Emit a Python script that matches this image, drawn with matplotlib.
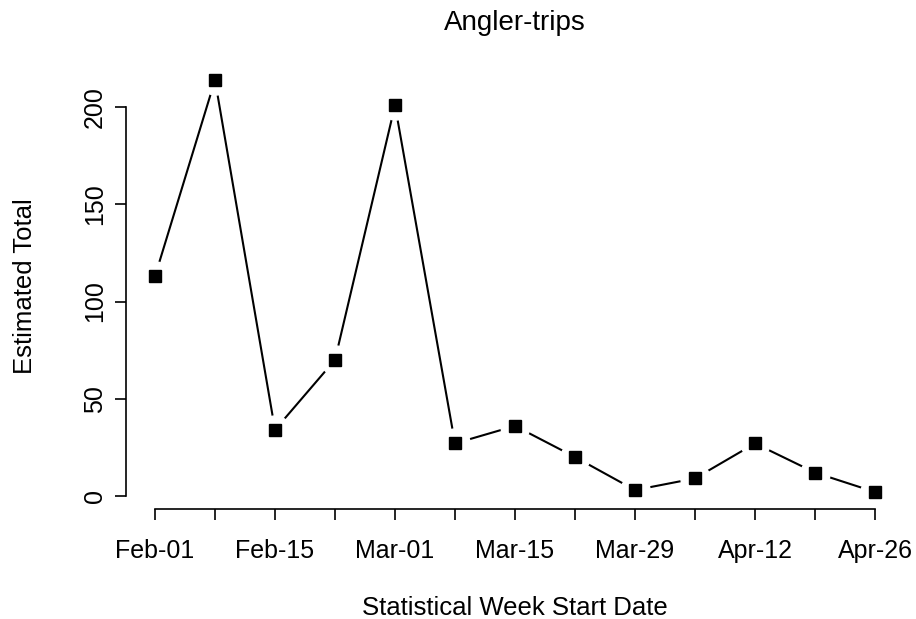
import matplotlib
matplotlib.use("Agg")
import matplotlib.pyplot as plt
import numpy as np
import pandas as pd

# weekly estimates
week_start = pd.date_range("2023-02-01", periods=13, freq="7D")
estimates = [113, 214, 34, 70, 201, 27, 36, 20, 3, 9, 27, 12, 2]
y_ticks = [0, 50, 100, 150, 200]

plt.rcParams["font.family"] = ["Liberation Sans", "DejaVu Sans"]

fig = plt.figure(figsize=(9.16, 6.19), dpi=100)
ax = fig.add_axes([126.2 / 916, 1 - 508.5 / 619, (903.8 - 126.2) / 916, (508.5 - 63.5) / 619])

x = np.arange(len(estimates))
# type="b": gaps round the points
ax.plot(x, estimates, color="black", lw=1.5, zorder=1)
ax.plot(x, estimates, ls="none", marker="o", ms=21, mfc="white", mec="white", zorder=2)
ax.plot(x, estimates, ls="none", marker="s", ms=8, color="black", zorder=3)

pad_x = 0.04 * (x[-1] - x[0])
pad_y = 0.04 * (max(estimates) - min(estimates))
ax.set_xlim(x[0] - pad_x, x[-1] + pad_x)
ax.set_ylim(min(estimates) - pad_y, max(estimates) + pad_y)

labels = [d.strftime("%b-%d") if i % 2 == 0 else "" for i, d in enumerate(week_start)]
ax.set_xticks(x)
ax.set_xticklabels(labels)
ax.set_yticks(y_ticks)
ax.set_yticklabels([str(v) for v in y_ticks], rotation=90, va="center")

for side in ["top", "right"]:
    ax.spines[side].set_visible(False)
ax.spines["left"].set_bounds(0, 200)
ax.spines["bottom"].set_bounds(x[0], x[-1])
for s in ["left", "bottom"]:
    ax.spines[s].set_linewidth(1.2)
ax.tick_params(length=8, width=1.2, labelsize=18)
ax.tick_params(axis="x", pad=14)
ax.tick_params(axis="y", pad=6)

ax.set_xlabel("Statistical Week Start Date", fontsize=18.5, labelpad=24)
ax.set_ylabel("Estimated Total", fontsize=18.5, labelpad=33)
ax.set_title("Angler-trips", fontsize=20, pad=24)

fig.savefig("out.png", dpi=100)
